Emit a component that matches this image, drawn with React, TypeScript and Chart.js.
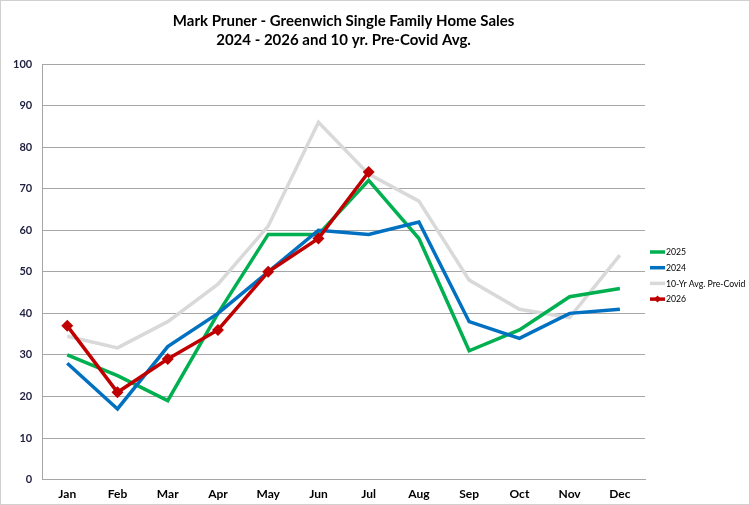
import { useEffect, useRef } from 'react';
import { Chart, registerables } from 'chart.js';

Chart.register(...registerables);

const months = ['Jan', 'Feb', 'Mar', 'Apr', 'May', 'Jun', 'Jul', 'Aug', 'Sep', 'Oct', 'Nov', 'Dec'];
const sales2025 = [30, 25, 19, 40, 59, 59, 72, 58, 31, 36, 44, 46];
const sales2024 = [28, 17, 32, 40, 50, 60, 59, 62, 38, 34, 40, 41];
const preCovidAvg = [34.5, 31.7, 38, 47, 61, 86, 73.5, 67, 48, 41, 39, 54];
const sales2026 = [37, 21, 29, 36, 50, 58, 74];

const titleLines = ['Mark Pruner - Greenwich Single Family Home Sales', '2024 - 2026 and 10 yr. Pre-Covid Avg.'];

// small legend on the right, drawn by hand so the plot can run up close to it
const sideLegend = {
  id: 'sideLegend',
  afterDraw(chart: Chart) {
    const ctx = chart.ctx;
    const x0 = chart.chartArea.right + 5;
    const y0 = 251;
    const gap = 15.7;
    ctx.save();
    ctx.font = '8.7px Lato';
    ctx.textBaseline = 'middle';
    chart.data.datasets.forEach((ds: any, i: number) => {
      const y = y0 + i * gap;
      ctx.strokeStyle = ds.borderColor;
      ctx.lineWidth = 3.5;
      ctx.beginPath();
      ctx.moveTo(x0, y);
      ctx.lineTo(x0 + 15, y);
      ctx.stroke();
      if (ds.pointStyle === 'rectRot') {
        ctx.fillStyle = ds.borderColor;
        ctx.beginPath();
        ctx.moveTo(x0 + 7.5, y - 3.5);
        ctx.lineTo(x0 + 11, y);
        ctx.lineTo(x0 + 7.5, y + 3.5);
        ctx.lineTo(x0 + 4, y);
        ctx.closePath();
        ctx.fill();
      }
      ctx.fillStyle = '#000000';
      ctx.fillText(ds.label, x0 + 16, y + 0.5);
    });
    ctx.restore();
  },
};

export default function App() {
  const chartRef = useRef<HTMLCanvasElement>(null);

  useEffect(() => {
    if (!chartRef.current) return;
    document.body.style.margin = '0';

    const chart = new Chart(chartRef.current, {
      type: 'line',
      data: {
        labels: months,
        datasets: [
          {
            label: '2025',
            data: sales2025,
            borderColor: '#00B050',
            backgroundColor: '#00B050',
            borderWidth: 3.5,
            pointRadius: 0,
            order: 2,
          },
          {
            label: '2024',
            data: sales2024,
            borderColor: '#0070C0',
            backgroundColor: '#0070C0',
            borderWidth: 3.5,
            pointRadius: 0,
            order: 1,
          },
          {
            label: '10-Yr Avg. Pre-Covid',
            data: preCovidAvg,
            borderColor: '#D9D9D9',
            backgroundColor: '#D9D9D9',
            borderWidth: 3.5,
            pointRadius: 0,
            order: 3,
          },
          {
            label: '2026',
            data: sales2026,
            borderColor: '#C00000',
            backgroundColor: '#C00000',
            borderWidth: 3.5,
            pointStyle: 'rectRot',
            pointRadius: 3.5,
            pointBackgroundColor: '#C00000',
            pointBorderColor: '#C00000',
            order: 0,
          },
        ],
      },
      options: {
        responsive: false,
        animation: false,
        layout: { padding: { left: 2, right: 104, top: 6, bottom: -4 } },
        plugins: {
          title: {
            display: true,
            text: titleLines,
            fullSize: false,
            color: '#000000',
            font: { family: 'Lato', size: 15, weight: 'bold', lineHeight: 1.3 },
            padding: { top: 4, bottom: 14 },
          },
          legend: { display: false },
          tooltip: { enabled: false },
        },
        scales: {
          x: {
            offset: true,
            grid: { display: false, drawTicks: false },
            border: { color: '#A6A6A6' },
            ticks: {
              color: '#000000',
              font: { family: 'Lato', size: 12, weight: 'bold' },
              padding: 7,
            },
          },
          y: {
            min: 0,
            max: 100,
            grid: { color: '#A6A6A6', lineWidth: 1, drawTicks: false },
            border: { color: '#A6A6A6' },
            ticks: {
              stepSize: 10,
              color: '#1F1F3F',
              font: { family: 'Lato', size: 11, weight: 'bold' },
              padding: 10,
            },
          },
        },
      },
      plugins: [sideLegend],
    });

    return () => {
      chart.destroy();
    };
  }, []);

  return (
    <div style={{ width: 750, height: 505, boxSizing: 'border-box', border: '1px solid #D0D0D0' }}>
      <canvas ref={chartRef} width={748} height={503} />
    </div>
  );
}
